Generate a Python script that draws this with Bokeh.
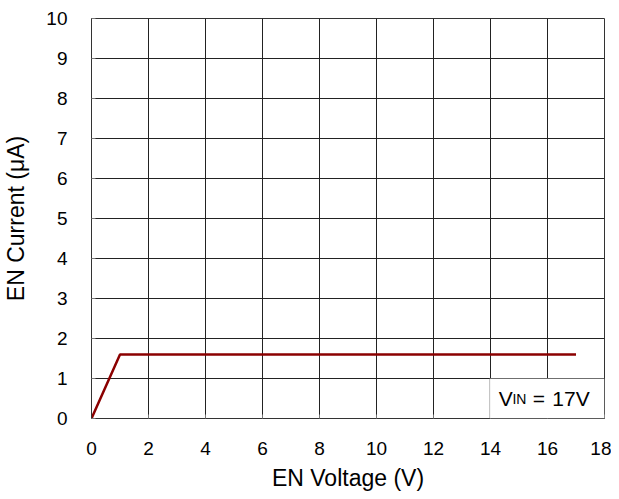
from bokeh.plotting import figure
from bokeh.models import BoxAnnotation, Range1d, FixedTicker
from bokeh.core.properties import value
from bokeh.embed import file_html
from bokeh.resources import INLINE

en_voltage = [0, 1, 17]
en_current = [0, 1.6, 1.6]
x_ticks = [0, 2, 4, 6, 8, 10, 12, 14, 16, 18]
y_ticks = [0, 1, 2, 3, 4, 5, 6, 7, 8, 9, 10]

FONT = "Liberation Sans"

p = figure(width=611, height=499, output_backend="svg", toolbar_location=None,
           x_range=Range1d(0, 18), y_range=Range1d(0, 10),
           min_border_left=90, min_border_right=7, min_border_top=18, min_border_bottom=81)

p.outline_line_color = "#333333"
p.outline_line_width = 1

for ax in (p.xaxis[0], p.yaxis[0]):
    ax.axis_line_color = "#333333"
    ax.major_tick_in = 4
    ax.major_tick_out = 0
    ax.minor_tick_line_color = None
    ax.major_tick_line_color = "#777777"
    ax.major_label_text_font = FONT
    ax.major_label_text_font_size = "19px"
    ax.major_label_text_color = "black"
    ax.axis_label_text_font = FONT
    ax.axis_label_text_font_size = "23px"
    ax.axis_label_text_font_style = "normal"
    ax.axis_label_text_color = "black"

p.xaxis.ticker = FixedTicker(ticks=x_ticks)
p.yaxis.ticker = FixedTicker(ticks=y_ticks)
p.xaxis.axis_label = "EN Voltage (V)"
p.yaxis.axis_label = "EN Current (μA)"
p.xaxis.major_label_standoff = 23
p.yaxis.major_label_standoff = 24
p.xaxis.axis_label_standoff = 7
p.yaxis.axis_label_standoff = 14

p.xgrid.ticker = FixedTicker(ticks=x_ticks)
p.ygrid.ticker = FixedTicker(ticks=y_ticks)
p.xgrid.grid_line_color = "#222222"
p.ygrid.grid_line_color = "#222222"
p.xgrid.grid_line_alpha = 1
p.ygrid.grid_line_alpha = 1

p.line(en_voltage, en_current, line_color="#8B0000", line_width=2.5)

box = BoxAnnotation(left=13.97, right=18, bottom=0, top=1.0,
                    fill_color="white", fill_alpha=1, line_color="#222222", line_width=1)
p.add_layout(box)

ann_x = [14.29, 14.77, 15.48, 16.17]
ann_text = ["V", "IN", "=", "17V"]
ann_size = ["21px", "14px", "21px", "21px"]
for x, t, s in zip(ann_x, ann_text, ann_size):
    r = p.text(x=[x], y=[0.5], text=[t], text_font=value(FONT), text_font_size=s,
               text_baseline="alphabetic", text_align="left", text_color="black")
    r.level = "overlay"

open("out.html", "w").write(file_html(p, INLINE))
